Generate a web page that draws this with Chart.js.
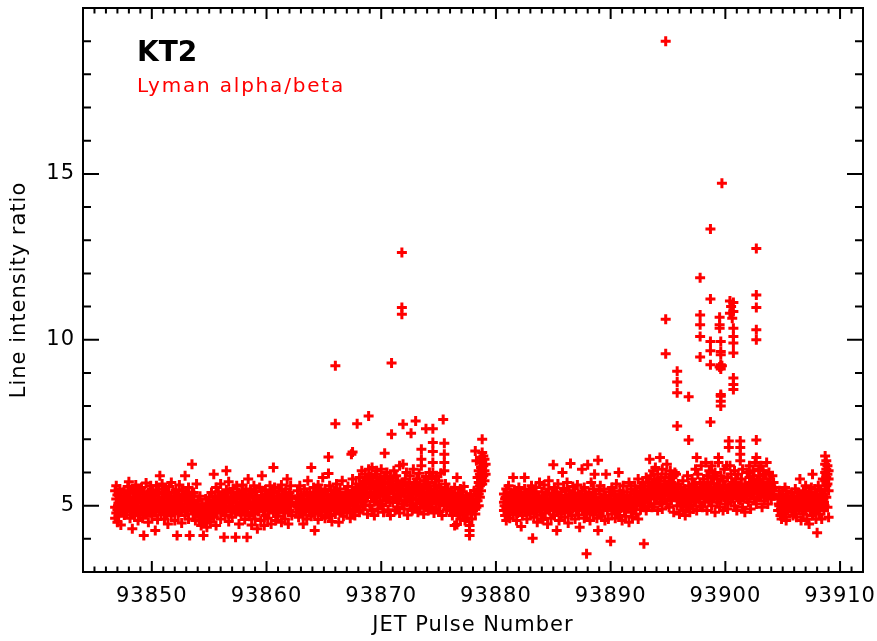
<!DOCTYPE html>
<html>
<head>
<meta charset="utf-8">
<script src="https://cdn.jsdelivr.net/npm/chart.js"></script>
<style>
  body { margin: 0; background: #fff; }
  #plot { display: block; }
</style>
</head>
<body>
<canvas id="plot" width="877" height="641"></canvas>
<script>
// [pulse, ratio], one list per run of shots
const shotsA = [
  [93846.8,5.45],[93846.8,4.95],[93846.8,4.62],[93846.9,5.6],[93846.9,5.2],[93846.9,4.78],[93847.0,5.32],[93847.0,4.88],[93847.0,4.5],[93847.1,5.08],[93847.1,4.68],[93847.2,5.5],[93847.3,4.42],[93847.3,5.25],
  [93847.5,5.15],[93847.5,4.9],[93847.6,5.45],[93847.6,4.72],[93847.7,5.02],[93847.8,5.3],[93847.8,4.8],[93847.9,5.58],[93847.9,5.1],[93848.0,4.95],[93848.0,5.72],[93848.1,4.62],[93848.1,5.38],[93848.2,5.05],[93848.3,4.3],[93848.3,4.85],[93848.4,5.5],[93848.4,5.18],[93848.5,4.7],[93848.6,5.62],[93848.6,4.98],[93848.7,5.28],[93848.8,4.55],[93848.8,5.12],[93848.9,5.42],[93848.9,4.88],
  [93849.0,5.22],[93849.0,4.75],[93849.1,5.55],[93849.1,5.0],[93849.2,4.62],[93849.3,4.1],[93849.3,5.35],[93849.4,4.92],[93849.4,5.15],[93849.5,5.68],[93849.5,4.8],[93849.6,5.05],[93849.7,4.5],[93849.7,5.4],[93849.8,5.25],[93849.8,4.85],[93849.9,5.6],[93849.9,4.98],
  [93850.0,5.12],[93850.0,4.68],[93850.1,5.48],[93850.1,5.02],[93850.2,4.82],[93850.3,4.25],[93850.3,5.3],[93850.4,5.6],[93850.4,4.95],[93850.5,4.58],[93850.5,5.18],[93850.6,5.42],[93850.7,5.9],[93850.7,4.88],[93850.8,5.08],[93850.8,4.72],[93850.9,5.35],[93850.9,5.65],
  [93851.0,4.92],[93851.0,5.22],[93851.1,4.6],[93851.1,5.5],[93851.2,5.0],[93851.3,4.78],[93851.3,5.32],[93851.4,5.15],[93851.4,4.45],[93851.5,5.58],[93851.5,4.9],[93851.6,5.25],[93851.7,5.7],[93851.7,4.7],[93851.8,5.05],[93851.9,4.85],[93851.9,5.4],
  [93852.0,5.12],[93852.0,4.55],[93852.1,5.48],[93852.1,4.98],[93852.2,4.1],[93852.3,5.3],[93852.3,4.75],[93852.4,5.62],[93852.4,5.02],[93852.5,4.88],[93852.6,5.2],[93852.6,4.48],[93852.7,5.45],[93852.8,4.95],[93852.9,5.9],[93852.9,4.7],[93852.9,5.15],
  [93853.0,5.38],[93853.0,4.85],[93853.1,5.05],[93853.2,4.6],[93853.2,5.55],[93853.3,4.1],[93853.3,5.22],[93853.4,4.9],[93853.5,6.25],[93853.5,5.4],[93853.6,4.75],[93853.6,5.08],[93853.7,5.3],[93853.8,4.55],[93853.9,5.65],[93853.9,4.95],
  [93854.0,4.82],[93854.0,5.15],[93854.1,4.55],[93854.1,4.95],[93854.2,5.28],[93854.2,4.7],[93854.3,4.4],[93854.3,4.88],[93854.4,5.05],[93854.4,4.62],[93854.5,4.78],[93854.5,4.1],[93854.6,4.95],[93854.6,4.48],[93854.7,5.2],[93854.7,4.68],[93854.8,4.85],[93854.8,4.35],[93854.9,5.02],[93854.9,4.6],
  [93855.0,4.75],[93855.0,5.25],[93855.1,4.92],[93855.1,4.5],[93855.2,5.4],[93855.2,4.8],[93855.3,5.08],[93855.4,5.95],[93855.4,4.65],[93855.5,5.3],[93855.5,4.95],[93855.6,4.4],[93855.6,5.55],[93855.7,5.12],[93855.7,4.78],[93855.8,5.42],[93855.9,4.9],[93855.9,5.2],
  [93856.0,4.6],[93856.0,5.65],[93856.1,5.02],[93856.2,4.85],[93856.2,5.35],[93856.3,4.05],[93856.3,5.15],[93856.4,4.7],[93856.5,6.05],[93856.5,5.48],[93856.5,4.95],[93856.6,5.25],[93856.7,4.52],[93856.7,5.72],[93856.8,5.08],[93856.9,4.82],[93856.9,5.38],
  [93857.0,5.18],[93857.0,4.65],[93857.1,5.52],[93857.1,4.95],[93857.2,5.3],[93857.3,4.05],[93857.3,4.78],[93857.4,5.1],[93857.4,5.6],[93857.5,4.88],[93857.6,5.4],[93857.6,4.45],[93857.7,5.0],[93857.8,5.25],[93857.8,4.72],[93857.9,5.62],[93857.9,5.05],
  [93858.0,4.9],[93858.0,5.35],[93858.1,4.58],[93858.2,5.15],[93858.2,5.5],[93858.3,4.05],[93858.3,4.8],[93858.4,5.8],[93858.4,5.02],[93858.5,4.68],[93858.5,5.28],[93858.6,5.45],[93858.7,4.92],[93858.7,4.42],[93858.8,5.12],[93858.9,5.6],[93858.9,4.75],
  [93859.0,5.22],[93859.0,4.6],[93859.1,4.98],[93859.1,5.42],[93859.2,4.3],[93859.3,5.1],[93859.3,4.82],[93859.4,5.55],[93859.5,5.0],[93859.5,4.55],[93859.6,5.9],[93859.6,5.3],[93859.7,4.88],[93859.8,5.15],[93859.8,4.4],[93859.9,5.48],[93859.9,4.7],
  [93860.0,5.05],[93860.0,5.35],[93860.1,4.62],[93860.2,5.2],[93860.2,4.9],[93860.3,5.6],[93860.4,4.45],[93860.4,5.02],[93860.5,5.4],[93860.6,6.15],[93860.6,4.78],[93860.6,5.12],[93860.7,5.55],[93860.8,4.95],[93860.8,4.55],[93860.9,5.28],
  [93861.0,5.08],[93861.0,4.68],[93861.1,5.45],[93861.1,4.88],[93861.2,5.2],[93861.3,4.5],[93861.3,5.62],[93861.4,5.0],[93861.5,4.78],[93861.5,5.35],[93861.6,5.12],[93861.6,4.6],[93861.7,5.5],[93861.8,5.8],[93861.8,4.92],[93861.9,5.22],[93861.9,4.45],
  [93862.0,5.4],[93862.0,4.85],[93862.1,5.05],[93862.1,5.6],[93862.2,4.7],[93862.2,5.25]
];
const shotsA2 = [
  [93847.05,5.0],[93847.15,5.3],[93847.25,4.8],[93847.35,5.15],[93847.45,4.95],[93847.55,5.4],[93847.65,4.85],[93847.75,5.2],[93847.85,5.05],
  [93848.05,5.25],[93848.15,4.9],[93848.25,5.1],[93848.35,5.45],[93848.45,4.8],[93848.55,5.0],[93848.65,5.35],[93848.75,4.95],[93848.85,5.2],
  [93849.05,4.85],[93849.15,5.15],[93849.25,5.4],[93849.35,5.0],[93849.45,4.75],[93849.55,5.3],[93849.65,5.1],[93849.75,4.9],[93849.85,5.45],
  [93850.05,5.3],[93850.15,4.95],[93850.25,5.2],[93850.35,4.8],[93850.45,5.05],[93850.55,5.35],[93850.65,4.9],[93850.75,5.15],[93850.85,5.0],
  [93851.05,5.1],[93851.15,5.4],[93851.25,4.85],[93851.35,5.25],[93851.45,5.0],[93851.55,4.8],[93851.65,5.3],[93851.75,5.05],[93851.85,4.95],
  [93852.05,4.9],[93852.15,5.2],[93852.25,5.0],[93852.35,5.35],[93852.45,4.8],[93852.55,5.15],[93852.65,5.45],[93852.75,4.95],[93852.85,5.25],
  [93853.05,5.2],[93853.15,4.85],[93853.25,5.3],[93853.35,5.0],[93853.45,5.1],[93853.55,4.9],[93853.65,5.4],[93853.75,4.8],[93853.85,5.05],
  [93854.05,4.95],[93854.15,4.65],[93854.25,4.85],[93854.35,5.0],[93854.45,4.6],[93854.55,4.75],[93854.65,4.9],[93854.75,4.55],[93854.85,4.8],
  [93855.05,4.85],[93855.15,5.05],[93855.25,4.7],[93855.35,4.95],[93855.45,5.15],[93855.55,4.8],[93855.65,5.0],[93855.75,5.25],[93855.85,4.9],
  [93856.05,5.1],[93856.15,4.9],[93856.25,5.3],[93856.35,5.0],[93856.45,4.8],[93856.55,5.2],[93856.65,5.4],[93856.75,4.95],[93856.85,5.15],
  [93857.05,5.0],[93857.15,5.25],[93857.25,4.85],[93857.35,5.1],[93857.45,5.35],[93857.55,4.9],[93857.65,5.2],[93857.75,4.8],[93857.85,5.45],
  [93858.05,5.2],[93858.15,4.95],[93858.25,5.15],[93858.35,4.8],[93858.45,5.3],[93858.55,5.05],[93858.65,4.9],[93858.75,5.4],[93858.85,5.1],
  [93859.05,4.9],[93859.15,5.3],[93859.25,5.1],[93859.35,4.85],[93859.45,5.2],[93859.55,5.45],[93859.65,4.95],[93859.75,5.05],[93859.85,5.25],
  [93860.05,5.15],[93860.15,4.85],[93860.25,5.3],[93860.35,5.0],[93860.45,5.2],[93860.55,4.9],[93860.65,5.45],[93860.75,5.1],[93860.85,4.8],
  [93861.05,5.3],[93861.15,5.0],[93861.25,4.9],[93861.35,5.2],[93861.45,5.1],[93861.55,4.85],[93861.65,5.4],[93861.75,4.95],[93861.85,5.15],
  [93862.05,5.0],[93862.15,5.3]
];

const shotsB = [
  [93862.6,5.1],[93862.6,4.8],[93862.7,5.45],[93862.7,4.95],[93862.8,5.25],[93862.8,4.65],[93862.9,5.6],[93862.9,5.0],[93863.0,4.85],[93863.0,5.35],[93863.1,5.15],[93863.2,4.45],[93863.2,4.72],[93863.3,5.5],[93863.3,5.05],[93863.4,4.9],[93863.5,5.3],[93863.5,4.6],[93863.6,5.75],[93863.6,5.12],[93863.7,4.82],[93863.8,5.4],[93863.9,6.15],[93863.9,5.0],[93863.9,4.68],
  [93864.0,5.22],[93864.0,4.88],[93864.1,5.55],[93864.1,5.02],[93864.2,4.25],[93864.2,4.75],[93864.3,5.35],[93864.3,5.1],[93864.4,4.92],[93864.5,5.62],[93864.5,4.58],[93864.6,5.2],[93864.6,4.85],[93864.7,5.45],[93864.8,5.05],[93864.8,4.7],[93864.9,5.3],[93864.9,5.85],
  [93865.0,4.95],[93865.0,5.15],[93865.1,4.62],[93865.1,5.5],[93865.2,5.02],[93865.3,4.8],[93865.3,5.35],[93865.4,6.47],[93865.4,5.97],[93865.4,5.18],[93865.5,4.7],[93865.5,5.6],[93865.6,4.98],[93865.7,5.28],[93865.7,4.52],[93865.8,5.1],[93865.9,4.85],[93865.9,5.45],
  [93866.0,9.22],[93866.0,7.47],[93866.0,5.05],[93866.0,4.75],[93866.1,5.35],[93866.1,5.65],[93866.2,4.92],[93866.3,5.2],[93866.3,4.5],[93866.4,5.5],[93866.4,5.0],[93866.5,4.82],[93866.6,5.3],[93866.6,5.75],[93866.7,4.68],[93866.8,5.12],[93866.8,4.95],[93866.9,5.4],
  [93867.0,5.05],[93867.0,4.78],[93867.1,5.58],[93867.1,5.22],[93867.2,4.9],[93867.3,5.35],[93867.3,4.62],[93867.4,6.55],[93867.4,5.1],[93867.5,6.62],[93867.5,5.8],[93867.5,4.85],[93867.6,5.45],[93867.7,5.0],[93867.7,4.7],[93867.8,5.65],[93867.9,7.47],[93867.9,5.25],[93867.9,4.95],
  [93868.0,5.5],[93868.0,5.0],[93868.1,5.85],[93868.1,4.8],[93868.2,5.3],[93868.3,6.05],[93868.3,5.6],[93868.4,5.1],[93868.4,4.88],[93868.5,5.75],[93868.5,5.4],[93868.6,5.95],[93868.6,5.0],[93868.7,5.55],[93868.8,4.75],[93868.8,5.25],[93868.9,7.7],[93868.9,6.1],[93868.9,5.65],
  [93869.0,5.4],[93869.0,5.02],[93869.1,5.88],[93869.1,5.55],[93869.2,4.85],[93869.2,6.15],[93869.3,5.3],[93869.3,5.7],[93869.4,5.12],[93869.4,4.7],[93869.5,5.95],[93869.5,5.5],[93869.6,5.22],[93869.6,6.05],[93869.7,4.9],[93869.7,5.62],[93869.8,5.35],[93869.9,5.8],[93869.9,5.05],
  [93870.0,6.1],[93870.0,5.45],[93870.1,5.0],[93870.1,5.72],[93870.2,5.28],[93870.2,4.8],[93870.3,6.58],[93870.3,5.9],[93870.3,5.55],[93870.4,5.15],[93870.5,6.0],[93870.5,5.38],[93870.6,4.88],[93870.6,5.65],[93870.7,5.25],[93870.8,5.85],[93870.8,4.7],[93870.9,9.3],[93870.9,7.15],[93870.9,5.5],
  [93871.0,5.1],[93871.0,5.75],[93871.1,5.35],[93871.1,6.05],[93871.2,4.85],[93871.2,5.55],[93871.3,5.2],[93871.3,5.9],[93871.4,4.95],[93871.5,5.62],[93871.5,5.3],[93871.6,6.2],[93871.6,4.78],[93871.7,5.45],[93871.8,12.63],[93871.8,10.97],[93871.8,10.77],[93871.8,5.05],[93871.9,7.45],[93871.9,6.25],[93871.9,5.7],
  [93872.0,5.38],[93872.0,4.9],[93872.1,5.8],[93872.1,5.15],[93872.2,6.0],[93872.2,5.5],[93872.3,4.72],[93872.3,5.25],[93872.4,5.65],[93872.5,5.02],[93872.5,5.9],[93872.6,7.18],[93872.6,5.4],[93872.7,4.85],[93872.7,5.55],[93872.8,5.2],[93872.8,6.1],[93872.9,5.7],[93872.9,4.95],
  [93873.0,7.55],[93873.0,5.35],[93873.1,5.05],[93873.1,5.8],[93873.2,4.8],[93873.2,5.5],[93873.3,5.98],[93873.3,5.2],[93873.4,5.62],[93873.4,4.92],[93873.5,6.7],[93873.5,6.4],[93873.5,6.2],[93873.5,5.4],[93873.6,5.1],[93873.7,5.75],[93873.7,4.75],[93873.8,5.3],[93873.9,7.32],[93873.9,5.88],[93873.9,5.0],
  [93874.0,5.55],[93874.0,5.15],[93874.1,4.85],[93874.1,5.7],[93874.2,5.3],[93874.2,6.0],[93874.3,4.95],[93874.3,5.45],[93874.4,5.82],[93874.4,5.1],[93874.5,7.32],[93874.5,6.9],[93874.5,6.63],[93874.5,6.3],[93874.5,6.0],[93874.5,5.35],[93874.6,4.78],[93874.6,5.6],[93874.7,5.2],[93874.8,5.9],[93874.8,4.9],[93874.9,5.42],
  [93875.0,5.05],[93875.0,5.75],[93875.1,5.3],[93875.1,4.82],[93875.2,5.55],[93875.2,5.98],[93875.3,5.15],[93875.3,4.7],[93875.4,7.6],[93875.4,5.4],[93875.5,6.88],[93875.5,6.55],[93875.5,6.3],[93875.5,6.05],[93875.5,5.0],[93875.6,5.65],[93875.7,5.25],[93875.7,4.88],[93875.8,5.5],[93875.9,5.1]
];
const shotsB2 = [
  [93862.65,5.0],[93862.75,5.2],[93862.85,4.9],[93862.95,5.1],
  [93863.05,5.15],[93863.15,4.95],[93863.25,5.3],[93863.35,4.85],[93863.45,5.05],[93863.55,5.4],[93863.65,5.0],[93863.75,5.2],[93863.85,4.9],
  [93864.05,5.05],[93864.15,5.35],[93864.25,4.9],[93864.35,5.15],[93864.45,5.25],[93864.55,4.8],[93864.65,5.0],[93864.75,5.4],[93864.85,5.1],
  [93865.05,5.2],[93865.15,4.9],[93865.25,5.1],[93865.35,5.3],[93865.45,4.95],[93865.55,5.15],[93865.65,5.45],[93865.75,5.0],[93865.85,5.25],
  [93866.05,4.95],[93866.15,5.2],[93866.25,5.4],[93866.35,5.05],[93866.45,5.15],[93866.55,4.9],[93866.65,5.3],[93866.75,5.1],[93866.85,5.2],
  [93867.05,5.15],[93867.15,5.35],[93867.25,5.0],[93867.35,5.25],[93867.45,5.45],[93867.55,5.05],[93867.65,5.3],[93867.75,5.1],[93867.85,5.4],
  [93868.05,5.3],[93868.15,5.6],[93868.25,5.15],[93868.35,5.45],[93868.45,5.7],[93868.55,5.25],[93868.65,5.5],[93868.75,5.35],[93868.85,5.8],
  [93869.05,5.5],[93869.15,5.25],[93869.25,5.75],[93869.35,5.4],[93869.45,5.6],[93869.55,5.15],[93869.65,5.85],[93869.75,5.35],[93869.85,5.65],
  [93870.05,5.6],[93870.15,5.3],[93870.25,5.5],[93870.35,5.8],[93870.45,5.2],[93870.55,5.4],[93870.65,5.7],[93870.75,5.1],[93870.85,5.55],
  [93871.05,5.45],[93871.15,5.2],[93871.25,5.6],[93871.35,5.35],[93871.45,5.75],[93871.55,5.15],[93871.65,5.5],[93871.75,5.3],[93871.85,5.6],
  [93872.05,5.3],[93872.15,5.5],[93872.25,5.1],[93872.35,5.4],[93872.45,5.65],[93872.55,5.2],[93872.65,5.45],[93872.75,5.35],[93872.85,5.55],
  [93873.05,5.2],[93873.15,5.45],[93873.25,5.6],[93873.35,5.3],[93873.45,5.1],[93873.55,5.5],[93873.65,5.25],[93873.75,5.4],[93873.85,5.65],
  [93874.05,5.35],[93874.15,5.05],[93874.25,5.5],[93874.35,5.25],[93874.45,5.4],[93874.55,5.15],[93874.65,5.3],[93874.75,5.6],[93874.85,5.2],
  [93875.05,5.2],[93875.15,5.45],[93875.25,5.35],[93875.35,5.1],[93875.45,5.3],[93875.55,5.25],[93875.65,5.4],[93875.75,5.05],[93875.85,5.3],[93875.95,5.15]
];

const shotsC = [
  [93876.0,5.2],[93876.0,4.85],[93876.1,5.45],[93876.1,5.0],[93876.2,4.7],[93876.2,5.3],[93876.3,5.1],[93876.4,4.4],[93876.4,5.55],[93876.5,4.92],[93876.5,5.25],[93876.6,5.85],[93876.6,4.43],[93876.6,5.05],[93876.7,4.78],[93876.7,5.38],[93876.8,5.15],[93876.9,4.6],[93876.9,4.95],[93876.9,5.5],
  [93877.0,5.2],[93877.0,4.88],[93877.1,5.42],[93877.1,4.72],[93877.2,5.05],[93877.2,5.58],[93877.3,4.95],[93877.3,4.55],[93877.4,5.3],[93877.4,5.12],[93877.5,4.8],[93877.5,4.62],[93877.6,5.25],[93877.6,4.95],[93877.7,4.4],[93877.7,4.25],[93877.7,4.1],[93877.7,5.1],[93877.8,4.78],[93877.8,5.35],[93877.9,5.0],[93877.9,4.6],
  [93878.0,5.2],[93878.0,4.85],[93878.1,5.45],[93878.1,5.05],[93878.2,6.65],[93878.2,4.75],[93878.3,6.35],[93878.3,5.3],[93878.3,4.95],
  [93878.4,5.15],[93878.4,5.5],[93878.4,5.85],[93878.5,5.0],[93878.5,5.35],[93878.5,5.7],[93878.5,6.05],[93878.6,5.25],[93878.6,5.6],[93878.6,5.95],[93878.6,6.3],[93878.7,5.45],[93878.7,5.8],[93878.7,6.15],[93878.7,6.45],[93878.8,7.0],[93878.8,5.65],[93878.8,6.0],[93878.8,6.35],[93878.8,6.6],[93878.9,5.9],[93878.9,6.2],[93878.9,6.5],[93879.0,5.75],[93879.0,6.05],[93879.0,6.4],[93879.1,6.25],[93879.1,5.95]
];
const shotsC2 = [
  [93876.05,5.1],[93876.15,4.95],[93876.25,5.3],[93876.35,5.05],[93876.45,4.85],[93876.55,5.2],[93876.65,4.95],[93876.75,5.1],[93876.85,5.25],
  [93877.05,5.05],[93877.15,5.3],[93877.25,4.9],[93877.35,5.15],[93877.45,5.0],[93877.55,5.2],[93877.65,4.85],[93877.75,5.1],[93877.85,4.95],
  [93878.05,5.1],[93878.15,4.9],[93878.25,5.15]
];

const shotsD = [
  [93880.7,5.1],[93880.7,4.85],[93880.7,5.35],[93880.8,4.7],[93880.8,5.2],[93880.9,5.5],[93880.9,4.95],[93880.9,4.55],
  [93881.0,5.05],[93881.0,5.3],[93881.1,4.8],[93881.1,5.6],[93881.2,5.15],[93881.2,4.62],[93881.3,4.95],[93881.3,5.4],[93881.4,5.22],[93881.5,5.85],[93881.5,4.72],[93881.5,5.0],[93881.6,5.48],[93881.7,4.9],[93881.7,5.12],[93881.8,4.55],[93881.8,5.35],[93881.9,5.02],[93881.9,4.78],
  [93882.0,5.25],[93882.0,5.55],[93882.1,4.85],[93882.1,5.08],[93882.2,4.37],[93882.2,5.4],[93882.3,4.98],[93882.3,4.7],[93882.4,5.18],[93882.5,5.85],[93882.5,5.5],[93882.5,4.9],[93882.6,5.05],[93882.7,4.6],[93882.7,5.3],[93882.8,5.12],[93882.8,4.82],[93882.9,5.45],[93882.9,5.0],
  [93883.0,4.75],[93883.0,5.22],[93883.1,5.6],[93883.1,4.95],[93883.2,4.02],[93883.2,5.1],[93883.3,4.65],[93883.3,5.38],[93883.4,5.02],[93883.5,4.85],[93883.5,5.55],[93883.6,5.15],[93883.6,4.5],[93883.7,5.3],[93883.8,4.92],[93883.8,5.7],[93883.9,5.08],[93883.9,4.72],
  [93884.0,5.42],[93884.0,4.88],[93884.1,5.18],[93884.1,4.58],[93884.2,5.62],[93884.2,5.0],[93884.3,4.78],[93884.4,5.32],[93884.4,5.1],[93884.5,4.45],[93884.5,4.95],[93884.6,5.5],[93884.6,5.75],[93884.7,4.85],[93884.7,5.2],[93884.8,4.62],[93884.9,5.38],[93884.9,5.02],
  [93885.0,6.23],[93885.0,4.9],[93885.0,5.25],[93885.1,5.55],[93885.1,4.7],[93885.2,5.08],[93885.3,4.25],[93885.3,5.35],[93885.4,4.82],[93885.4,5.65],[93885.5,5.12],[93885.5,4.55],[93885.6,4.98],[93885.7,5.42],[93885.7,4.75],[93885.8,6.0],[93885.8,5.2],[93885.9,4.88],[93885.9,5.52],
  [93886.0,5.05],[93886.0,4.65],[93886.1,5.3],[93886.2,4.9],[93886.2,5.7],[93886.3,5.15],[93886.3,4.48],[93886.4,4.8],[93886.4,5.45],[93886.5,6.27],[93886.5,5.02],[93886.6,5.25],[93886.6,4.7],[93886.7,5.58],[93886.8,4.95],[93886.8,5.1],[93886.9,4.6],[93886.9,5.38],
  [93887.0,5.2],[93887.0,4.85],[93887.1,5.62],[93887.1,5.0],[93887.2,4.72],[93887.3,5.32],[93887.3,4.35],[93887.4,5.08],[93887.5,6.1],[93887.5,4.9],[93887.5,5.45],[93887.6,5.15],[93887.7,4.62],[93887.7,5.55],[93887.8,4.98],[93887.9,3.55],[93887.9,5.3],[93887.9,4.78],
  [93888.0,6.23],[93888.0,5.05],[93888.1,4.85],[93888.1,5.4],[93888.2,5.18],[93888.2,4.55],[93888.3,5.7],[93888.3,4.95],[93888.4,5.25],[93888.5,4.72],[93888.5,5.5],[93888.6,5.95],[93888.6,5.02],[93888.7,4.88],[93888.7,5.35],[93888.8,4.62],[93888.9,6.37],[93888.9,4.25],[93888.9,5.12],
  [93889.0,5.45],[93889.0,4.8],[93889.1,5.0],[93889.1,5.6],[93889.2,4.68],[93889.3,5.22],[93889.3,4.95],[93889.4,5.5],[93889.5,5.08],[93889.5,4.55],[93889.6,5.95],[93889.6,5.3],[93889.7,4.85],[93889.8,5.15],[93889.8,4.6],[93889.9,5.42],[93889.9,4.98],
  [93890.0,3.93],[93890.0,5.2],[93890.1,4.75],[93890.1,5.55],[93890.2,5.02],[93890.3,4.9],[93890.3,5.35],[93890.4,4.62],[93890.4,5.12],[93890.5,5.65],[93890.6,4.82],[93890.6,5.25],[93890.7,6.0],[93890.7,5.05],[93890.8,4.7],[93890.8,5.45],[93890.9,4.95],[93890.9,5.18],
  [93891.0,4.55],[93891.0,5.3],[93891.1,5.0],[93891.1,5.6],[93891.2,4.85],[93891.3,5.2],[93891.3,4.68],[93891.4,5.42],[93891.5,5.08],[93891.5,4.92],[93891.6,5.7],[93891.6,4.5],[93891.7,5.25],[93891.8,4.8],[93891.8,5.5],[93891.9,5.1],[93891.9,4.65],
  [93892.0,5.35],[93892.0,4.9],[93892.1,5.6],[93892.1,5.15],[93892.2,4.75],[93892.3,5.45],[93892.3,5.0],[93892.4,5.8],[93892.4,4.6],[93892.5,5.25],[93892.6,5.55],[93892.6,4.88],[93892.7,5.05],[93892.8,5.7],[93892.8,5.38],[93892.9,3.85],[93892.9,4.95],[93892.9,5.2],
  [93893.0,5.6],[93893.0,5.1],[93893.1,5.85],[93893.1,4.85],[93893.2,5.4],[93893.2,5.25]
];
const shotsD2 = [
  [93880.75,5.0],[93880.85,5.25],[93880.95,4.9],
  [93881.05,5.2],[93881.15,4.9],[93881.25,5.1],[93881.35,5.3],[93881.45,4.85],[93881.55,5.05],[93881.65,5.25],[93881.75,4.95],[93881.85,5.15],
  [93882.05,5.0],[93882.15,5.3],[93882.25,4.85],[93882.35,5.15],[93882.45,5.05],[93882.55,5.35],[93882.65,4.9],[93882.75,5.2],[93882.85,5.1],
  [93883.05,5.15],[93883.15,4.95],[93883.25,5.35],[93883.35,5.05],[93883.45,5.2],[93883.55,4.8],[93883.65,5.1],[93883.75,5.25],[93883.85,4.9],
  [93884.05,5.05],[93884.15,5.25],[93884.25,4.9],[93884.35,5.1],[93884.45,5.35],[93884.55,5.0],[93884.65,4.85],[93884.75,5.2],[93884.85,5.15],
  [93885.05,5.2],[93885.15,5.0],[93885.25,5.3],[93885.35,4.9],[93885.45,5.15],[93885.55,5.05],[93885.65,5.25],[93885.75,4.85],[93885.85,5.1],
  [93886.05,4.95],[93886.15,5.2],[93886.25,5.1],[93886.35,5.35],[93886.45,4.9],[93886.55,5.05],[93886.65,5.25],[93886.75,5.0],[93886.85,5.3],
  [93887.05,5.1],[93887.15,4.9],[93887.25,5.3],[93887.35,5.05],[93887.45,5.2],[93887.55,4.85],[93887.65,5.15],[93887.75,5.35],[93887.85,4.95],
  [93888.05,5.2],[93888.15,5.05],[93888.25,4.9],[93888.35,5.3],[93888.45,5.1],[93888.55,5.25],[93888.65,4.95],[93888.75,5.15],[93888.85,5.0],
  [93889.05,5.0],[93889.15,5.25],[93889.25,5.1],[93889.35,4.85],[93889.45,5.3],[93889.55,5.05],[93889.65,5.2],[93889.75,4.95],[93889.85,5.15],
  [93890.05,5.15],[93890.15,4.9],[93890.25,5.05],[93890.35,5.3],[93890.45,5.0],[93890.55,5.2],[93890.65,4.85],[93890.75,5.1],[93890.85,5.35],
  [93891.05,5.05],[93891.15,5.25],[93891.25,4.9],[93891.35,5.15],[93891.45,5.3],[93891.55,5.0],[93891.65,5.2],[93891.75,5.1],[93891.85,4.95],
  [93892.05,5.2],[93892.15,5.0],[93892.25,5.35],[93892.35,5.1],[93892.45,5.25],[93892.55,5.4],[93892.65,5.05],[93892.75,5.3],[93892.85,5.15],
  [93893.05,5.35],[93893.15,5.2],[93893.25,5.45]
];

const shotsE = [
  [93893.3,5.7],[93893.3,5.0],[93893.4,6.4],[93893.4,5.5],[93893.5,5.9],[93893.5,5.2],[93893.6,4.95],[93893.6,5.65],[93893.7,6.05],[93893.7,5.35],[93893.8,5.8],[93893.8,5.05],[93893.9,5.5],[93893.9,6.15],
  [93894.0,5.25],[93894.0,5.7],[93894.1,4.85],[93894.1,5.95],[93894.2,5.45],[93894.3,6.45],[93894.3,5.6],[93894.3,5.1],[93894.4,5.85],[93894.4,5.3],[93894.5,6.1],[93894.5,4.9],[93894.6,5.55],[93894.7,5.75],[93894.7,5.2],[93894.8,19.0],[93894.8,10.62],[93894.8,9.58],[93894.8,5.95],[93894.8,5.4],[93894.9,5.05],[93894.9,6.25],
  [93895.0,5.6],[93895.0,5.3],[93895.1,5.85],[93895.1,4.95],[93895.2,5.45],[93895.2,6.05],[93895.3,5.15],[93895.3,5.7],[93895.4,5.38],[93895.5,4.8],[93895.5,5.9],[93895.6,6.0],[93895.6,5.55],[93895.7,5.25],[93895.7,5.95],[93895.8,9.05],[93895.8,8.73],[93895.8,8.4],[93895.8,7.4],[93895.8,5.0],[93895.9,5.65],[93895.9,5.4],
  [93896.0,5.2],[93896.0,4.75],[93896.1,5.55],[93896.1,5.0],[93896.2,5.35],[93896.3,4.85],[93896.3,5.75],[93896.4,5.1],[93896.5,5.45],[93896.5,4.7],[93896.6,5.25],[93896.7,5.9],[93896.7,4.95],[93896.8,8.28],[93896.8,6.98],[93896.8,5.6],[93896.8,5.15],[93896.9,5.35],[93896.9,4.8],
  [93897.0,5.5],[93897.0,5.02],[93897.1,5.8],[93897.1,5.25],[93897.2,4.9],[93897.3,5.65],[93897.3,5.4],[93897.4,6.1],[93897.4,5.1],[93897.5,6.45],[93897.5,5.55],[93897.5,4.85],[93897.6,5.3],[93897.6,5.95],[93897.7,5.2],[93897.8,11.87],[93897.8,10.75],[93897.8,10.45],[93897.8,10.1],[93897.8,9.48],[93897.8,5.7],[93897.8,5.0],[93897.9,5.45],[93897.9,6.2],
  [93898.0,5.35],[93898.0,4.95],[93898.1,5.8],[93898.1,5.6],[93898.2,5.1],[93898.3,6.3],[93898.3,5.5],[93898.4,4.85],[93898.4,5.9],[93898.5,5.3],[93898.5,5.7],[93898.6,6.05],[93898.6,5.15],[93898.7,13.34],[93898.7,11.23],[93898.7,9.95],[93898.7,9.67],[93898.7,9.25],[93898.7,7.52],[93898.7,5.55],[93898.8,5.0],[93898.8,6.2],[93898.9,5.4],[93898.9,5.85],
  [93899.0,5.25],[93899.0,5.65],[93899.1,4.8],[93899.1,6.0],[93899.2,5.45],[93899.3,5.1],[93899.3,5.8],[93899.4,6.45],[93899.4,6.3],[93899.4,5.35],[93899.5,10.68],[93899.5,10.45],[93899.5,10.35],[93899.5,9.18],[93899.5,5.6],[93899.5,4.95],[93899.6,9.95],[93899.6,9.65],[93899.6,9.55],[93899.6,9.25],[93899.6,9.2],[93899.6,9.12],[93899.6,8.35],[93899.6,8.3],[93899.6,8.15],[93899.6,8.0],[93899.6,5.9],[93899.6,5.2],[93899.7,14.72],[93899.7,9.22],[93899.7,5.5],[93899.8,4.85],[93899.8,5.75],[93899.9,5.3],[93899.9,6.1],
  [93900.0,5.05],[93900.0,5.6],[93900.1,5.4],[93900.1,6.2],[93900.2,4.9],[93900.2,5.85],[93900.3,6.95],[93900.3,6.75],[93900.3,5.3],[93900.4,11.17],[93900.4,10.8],[93900.4,6.2],[93900.4,5.55],[93900.5,11.0],[93900.5,5.1],[93900.5,5.95],[93900.6,10.65],[93900.6,5.4],[93900.7,11.12],[93900.7,10.85],[93900.7,10.35],[93900.7,10.1],[93900.7,9.9],[93900.7,9.6],[93900.7,8.85],[93900.7,8.65],[93900.7,8.5],[93900.7,5.7],[93900.8,5.0],[93900.8,6.05],[93900.9,5.35],[93900.9,5.8],
  [93901.0,5.5],[93901.0,4.85],[93901.1,5.95],[93901.1,5.25],[93901.2,5.6],[93901.3,6.95],[93901.3,6.75],[93901.3,6.55],[93901.3,6.35],[93901.3,5.15],[93901.4,5.8],[93901.4,5.4],[93901.5,4.95],[93901.5,6.1],[93901.6,5.3],[93901.7,5.65],[93901.7,4.8],[93901.8,5.45],[93901.9,6.0],[93901.9,5.2],
  [93902.0,5.55],[93902.0,5.1],[93902.1,5.85],[93902.1,6.2],[93902.2,5.35],[93902.2,4.9],[93902.3,5.7],[93902.4,6.05],[93902.4,5.45],[93902.5,5.2],[93902.5,5.9],[93902.6,5.6],[93902.6,6.3],[93902.7,12.75],[93902.7,11.35],[93902.7,10.97],[93902.7,10.3],[93902.7,10.0],[93902.7,6.98],[93902.7,6.45],[93902.7,5.05],[93902.8,5.75],[93902.8,5.4],[93902.9,6.1],[93902.9,5.25],
  [93903.0,5.65],[93903.0,5.9],[93903.1,5.3],[93903.1,6.2],[93903.2,5.5],[93903.2,4.95],[93903.3,5.8],[93903.3,6.05],[93903.4,5.4],[93903.4,5.15],[93903.5,5.95],[93903.5,5.6],[93903.6,6.3],[93903.6,5.25],[93903.7,5.7],[93903.7,5.05],[93903.8,5.5],[93903.8,6.0],[93903.9,5.35],[93903.9,5.8],
  [93904.0,5.6],[93904.0,5.2],[93904.1,5.9],[93904.1,5.45],[93904.2,5.7],[93904.2,5.3]
];
const shotsE2 = [
  [93893.35,5.4],[93893.45,5.25],[93893.55,5.6],[93893.65,5.35],[93893.75,5.5],[93893.85,5.3],[93893.95,5.7],
  [93894.05,5.5],[93894.15,5.3],[93894.25,5.65],[93894.35,5.4],[93894.45,5.2],[93894.55,5.55],[93894.65,5.35],[93894.75,5.45],[93894.85,5.6],
  [93895.05,5.35],[93895.15,5.55],[93895.25,5.2],[93895.35,5.45],[93895.45,5.65],[93895.55,5.3],[93895.65,5.5],[93895.75,5.4],[93895.85,5.25],
  [93896.05,5.3],[93896.15,5.1],[93896.25,5.4],[93896.35,5.2],[93896.45,5.5],[93896.55,5.05],[93896.65,5.35],[93896.75,5.25],[93896.85,5.45],
  [93897.05,5.25],[93897.15,5.45],[93897.25,5.15],[93897.35,5.35],[93897.45,5.55],[93897.55,5.3],[93897.65,5.4],[93897.75,5.2],[93897.85,5.5],
  [93898.05,5.45],[93898.15,5.25],[93898.25,5.6],[93898.35,5.35],[93898.45,5.5],[93898.55,5.2],[93898.65,5.4],[93898.75,5.65],[93898.85,5.3],
  [93899.05,5.4],[93899.15,5.55],[93899.25,5.2],[93899.35,5.45],[93899.45,5.3],[93899.55,5.6],[93899.65,5.35],[93899.75,5.5],[93899.85,5.25],
  [93900.05,5.3],[93900.15,5.5],[93900.25,5.2],[93900.35,5.45],[93900.45,5.35],[93900.55,5.65],[93900.65,5.25],[93900.75,5.4],[93900.85,5.55],
  [93901.05,5.35],[93901.15,5.2],[93901.25,5.55],[93901.35,5.4],[93901.45,5.25],[93901.55,5.5],[93901.65,5.3],[93901.75,5.6],[93901.85,5.45],
  [93902.05,5.5],[93902.15,5.3],[93902.25,5.65],[93902.35,5.45],[93902.45,5.35],[93902.55,5.7],[93902.65,5.55],[93902.75,5.4],[93902.85,5.6],
  [93903.05,5.55],[93903.15,5.4],[93903.25,5.7],[93903.35,5.45],[93903.45,5.6],[93903.55,5.35],[93903.65,5.5],[93903.75,5.65],[93903.85,5.4],
  [93904.05,5.5],[93904.15,5.35],[93904.25,5.55]
];

const shotsF = [
  [93904.6,5.2],[93904.6,4.85],[93904.7,5.45],[93904.7,5.0],[93904.8,4.7],[93904.8,5.3],[93904.9,5.1],[93904.9,4.6],
  [93905.0,5.35],[93905.0,4.9],[93905.1,5.15],[93905.1,4.75],[93905.2,5.55],[93905.2,5.0],[93905.3,5.45],[93905.3,4.55],[93905.3,4.65],[93905.4,5.25],[93905.4,4.85],[93905.5,5.05],[93905.6,4.95],[93905.7,5.2],[93905.8,4.8],[93905.8,5.4],[93905.9,5.1],[93905.9,4.7],
  [93906.0,5.3],[93906.0,4.9],[93906.1,5.5],[93906.1,5.05],[93906.2,4.65],[93906.3,5.2],[93906.3,5.4],[93906.4,4.85],[93906.5,5.8],[93906.5,5.1],[93906.6,4.55],[93906.6,5.3],[93906.7,4.95],[93906.8,5.45],[93906.8,4.75],[93906.9,5.2],[93906.9,5.0],
  [93907.0,5.6],[93907.0,4.85],[93907.1,5.25],[93907.1,4.6],[93907.2,5.05],[93907.3,4.45],[93907.3,5.4],[93907.4,4.9],[93907.4,5.15],[93907.5,5.55],[93907.6,5.95],[93907.6,4.7],[93907.6,5.3],[93907.7,5.0],[93907.8,4.8],[93907.8,5.5],[93907.9,5.1],[93907.9,4.6],
  [93908.0,4.18],[93908.0,5.35],[93908.0,4.9],[93908.1,5.6],[93908.1,5.05],[93908.2,4.75],[93908.3,5.25],[93908.3,5.45],[93908.4,4.6],[93908.4,5.0],[93908.5,5.8],[93908.5,5.3],[93908.6,5.1],[93908.6,4.85],
  [93908.7,6.5],[93908.7,6.25],[93908.7,6.0],[93908.7,5.75],[93908.7,5.5],[93908.8,6.35],[93908.8,6.1],[93908.8,5.85],[93908.8,5.6],[93908.8,5.25],[93908.9,6.2],[93908.9,5.95],[93908.9,5.65],[93908.9,4.95],[93909.0,6.05],[93909.0,5.8],[93909.0,4.65],[93909.0,5.45]
];
const shotsF2 = [
  [93904.65,5.05],[93904.75,5.25],[93904.85,4.9],[93904.95,5.15],
  [93905.05,5.0],[93905.15,5.2],[93905.25,4.85],[93905.35,5.1],[93905.45,5.3],[93905.55,4.95],[93905.65,5.15],[93905.75,5.05],[93905.85,5.25],
  [93906.05,5.15],[93906.15,4.9],[93906.25,5.05],[93906.35,5.25],[93906.45,5.0],[93906.55,5.2],[93906.65,4.85],[93906.75,5.1],[93906.85,5.35],
  [93907.05,5.05],[93907.15,5.3],[93907.25,4.95],[93907.35,5.15],[93907.45,5.2],[93907.55,4.9],[93907.65,5.1],[93907.75,5.25],[93907.85,5.0],
  [93908.05,5.1],[93908.15,5.25],[93908.25,4.95],[93908.35,5.15],[93908.45,5.05],[93908.55,5.2],[93908.65,5.0]
];

const xRange = [93844, 93912];
const yRange = [3, 20];
const xLabels = [93850, 93860, 93870, 93880, 93890, 93900, 93910];
const yLabels = [5, 10, 15];

const points = [].concat(shotsA, shotsA2, shotsB, shotsB2, shotsC, shotsC2, shotsD, shotsD2, shotsE, shotsE2, shotsF, shotsF2)
  .map(([x, y]) => ({x: x, y: y}));

const tickFont = {family: 'DejaVu Sans', size: 21};
const titleFont = {family: 'DejaVu Sans', size: 21};

// IDL style frame: box on four sides, ticks pointing inwards, plus the two labels
const idlFrame = {
  id: 'idlFrame',
  beforeDraw(chart) {
    chart.ctx.letterSpacing = '1px';
  },
  afterDraw(chart) {
    const ctx = chart.ctx;
    const a = chart.chartArea;
    const xs = chart.scales.x, ys = chart.scales.y;
    ctx.save();
    ctx.strokeStyle = '#000';
    ctx.lineWidth = 2;
    ctx.strokeRect(a.left, a.top, a.right - a.left, a.bottom - a.top);
    ctx.beginPath();
    for (let v = xs.min; v <= xs.max; v++) {
      const px = xs.getPixelForValue(v);
      const len = v % 10 === 0 ? 11 : 5.5;
      ctx.moveTo(px, a.bottom); ctx.lineTo(px, a.bottom - len);
      ctx.moveTo(px, a.top); ctx.lineTo(px, a.top + len);
    }
    for (let v = ys.min; v <= ys.max; v++) {
      const py = ys.getPixelForValue(v);
      const len = v % 5 === 0 ? 16 : 8;
      ctx.moveTo(a.left, py); ctx.lineTo(a.left + len, py);
      ctx.moveTo(a.right, py); ctx.lineTo(a.right - len, py);
    }
    ctx.stroke();

    ctx.textAlign = 'left';
    ctx.textBaseline = 'alphabetic';
    ctx.letterSpacing = '0px';
    ctx.fillStyle = '#000';
    ctx.font = 'bold 28px "DejaVu Sans"';
    ctx.fillText('KT2', a.left + 54, a.top + 53);
    ctx.letterSpacing = '1.8px';
    ctx.fillStyle = '#ff0000';
    ctx.font = '20px "DejaVu Sans"';
    ctx.fillText('Lyman alpha/beta', a.left + 54, a.top + 84);
    ctx.restore();
  }
};

const config = {
  type: 'scatter',
  data: {
    datasets: [{
      data: points,
      pointStyle: 'cross',
      pointRadius: 5,
      pointHoverRadius: 5,
      borderWidth: 3,
      borderColor: '#ff0000',
      backgroundColor: '#ff0000'
    }]
  },
  options: {
    responsive: false,
    animation: false,
    events: [],
    layout: {padding: {top: 6, right: 14, left: 0, bottom: 0}},
    plugins: {legend: {display: false}, tooltip: {enabled: false}},
    scales: {
      x: {
        type: 'linear',
        min: xRange[0],
        max: xRange[1],
        grid: {display: false, drawTicks: false},
        border: {display: false},
        ticks: {color: '#000', font: tickFont, padding: 12, maxRotation: 0, autoSkip: false,
          callback: v => String(v)},
        afterBuildTicks: s => { s.ticks = xLabels.map(v => ({value: v})); },
        afterFit: s => { s.height = 69; s.paddingLeft = 0; s.paddingRight = 0; },
        title: {display: true, text: 'JET Pulse Number', color: '#000', font: titleFont, padding: {top: 0, bottom: 3}}
      },
      y: {
        type: 'linear',
        min: yRange[0],
        max: yRange[1],
        grid: {display: false, drawTicks: false},
        border: {display: false},
        ticks: {color: '#000', font: tickFont, padding: 8, callback: v => String(v)},
        afterBuildTicks: s => { s.ticks = yLabels.map(v => ({value: v})); },
        afterFit: s => { s.width = 83; s.paddingTop = 0; s.paddingBottom = 0; },
        title: {display: true, text: 'Line intensity ratio', color: '#000', font: titleFont, padding: {top: 7, bottom: 0}}
      }
    }
  },
  plugins: [idlFrame]
};

const chart = new Chart(document.getElementById('plot'), config);
</script>
</body>
</html>
